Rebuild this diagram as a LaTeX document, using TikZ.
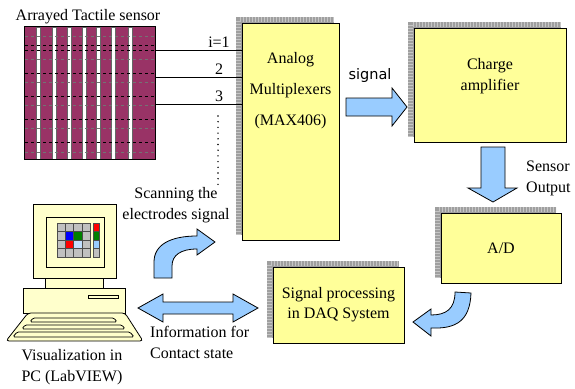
\documentclass[tikz,border=0pt]{standalone}
\usepackage{fontspec}
\setmainfont{Liberation Serif}
\newfontfamily\signalfont{DejaVu Sans}
\usepackage{tikz}
\usetikzlibrary{backgrounds}
\definecolor{boxyellow}{RGB}{255, 255, 153}
\definecolor{pcyellow}{RGB}{255, 255, 204}
\definecolor{arrowblue}{RGB}{153, 204, 255}
\definecolor{sensorpurple}{RGB}{153, 51, 102}
\definecolor{cellgray}{RGB}{192, 192, 192}

\begin{document}
\begin{tikzpicture}[x=1pt, y=-1pt,
  stage/.style={draw, line width=1pt, fill=boxyellow, inner sep=0pt, align=center,
    font=\fontsize{16}{20}\selectfont},
  lbl/.style={inner sep=0pt, align=center, font=\fontsize{16}{21}\selectfont},
  blockarrow/.style={draw, line width=0.8pt, fill=arrowblue, line join=miter},
  pc/.style={draw, line width=0.8pt, fill=pcyellow}]
  \useasboundingbox (0,0) rectangle (575,388);

  % Tactile sensor array
  \node[lbl] (title) at (88,17) {Arrayed Tactile sensor};
  \node[fill=sensorpurple, minimum width=130pt, minimum height=132pt, inner sep=0pt]
    (sensor) at (90,93) {};
  \foreach \x in {36,51.7,66.7,81.7,96,111,127.7}
    \draw[black!60, line width=0.4pt, fill=white] (\x,27) rectangle (\x+4.5,159);
  \foreach \y in {36,59,82,105.5,128.5,152}
    \draw[black!55, dashed, line width=0.9pt] (25,\y) -- (155,\y);
  \foreach \y in {45,50,73,96.5,119.5,142.5}
    \draw[black, dashed, line width=0.9pt] (25,\y) -- (155,\y);
  \draw[line width=1pt] (sensor.north west) rectangle (sensor.south east);

  % Processing stages
  \node[stage, minimum width=97pt, minimum height=217pt] (mux) at (290.5,131.5) {};
  \node[lbl, font=\fontsize{16}{31}\selectfont] (muxtext) at (290.5,91)
    {Analog\\Multiplexers\\(MAX406)};
  \node[stage, minimum width=152pt, minimum height=114pt] (amp) at (490,85) {};
  \node[lbl] (amptext) at (490,76) {Charge\\amplifier};
  \node[stage, minimum width=120pt, minimum height=70pt] (adc) at (501,248) {A/D};
  \node[stage, minimum width=131pt, minimum height=76pt] (daq) at (338.5,305)
    {Signal processing\\in DAQ System};

  % Ruled drop shadows behind the stages
  \begin{scope}[on background layer]
    \foreach \b in {mux,amp,adc,daq} {
      \fill[gray!75] ([shift={(-6,-6)}]\b.north west) rectangle ([shift={(-6,-6)}]\b.south east);
      \draw[gray!45, line width=5pt, dash pattern=on 0.8pt off 2.2pt]
        ([shift={(-3,-6)}]\b.south west) -- ([shift={(-3,-3)}]\b.north west)
        -- ([shift={(-6,-3)}]\b.north east);
    }
  \end{scope}

  % Electrode lines into the multiplexer
  \foreach \y/\t in {50/{i=1}, 77/2, 104/3} {
    \draw[line width=0.8pt] (sensor.east |- 0,\y) -- (mux.west |- 0,\y);
    \node[lbl, anchor=south] at (219,\y-2) {\t};
  }
  \draw[line width=1.6pt, line cap=round, dash pattern=on 0pt off 5.7pt] (218,116) -- (218,186);

  % Signal flow arrows
  \node[lbl, font=\fontsize{14.5}{16}\signalfont] (sig) at (370,75) {signal};
  \draw[blockarrow] (346,98) -- (392,98) -- (392,88) -- (407,107) -- (392,126)
    -- (392,116) -- (346,116) -- cycle;
  \draw[blockarrow] (481,147) -- (505,147) -- (505,188) -- (517,188) -- (493,202)
    -- (468,188) -- (481,188) -- cycle;
  \node[lbl, anchor=west, align=left] (out) at (526,178) {Sensor\\Output};
  \draw[blockarrow] (455,292) -- (471,293) .. controls (470,321) and (456,329) .. (431,328)
    -- (431,336) -- (413,322) -- (431,309) -- (431,315)
    .. controls (446,315) and (455,309) .. (455,292) -- cycle;
  \draw[blockarrow] (154,278) -- (154,262) .. controls (154,245) and (170,236) .. (197,236)
    -- (197,229) -- (215,242) -- (197,255) -- (197,249)
    .. controls (181,249) and (172,255) .. (172,266) -- (172,278) -- cycle;
  \node[lbl] (scan) at (176,205) {Scanning the\\electrodes signal};
  \draw[blockarrow] (138,308) -- (163,294) -- (163,302) -- (233,302) -- (233,294)
    -- (258,308) -- (233,322) -- (233,314) -- (163,314) -- (163,322) -- cycle;
  \node[lbl, anchor=west, align=left] (info) at (150,342) {Information for\\Contact state};

  % Host PC
  \draw[pc] (33,204) rectangle (116,278);
  \draw[pc] (46,217) rectangle (104,267);
  \foreach \i in {0,...,3}
    \foreach \j in {0,...,3}
      \draw[black!70, line width=0.5pt, fill=cellgray] (57+8.25*\i,223+8.5*\j) rectangle +(8.25,8.5);
  \foreach \i/\j/\c in {1/1/blue, 2/1/green!50!black, 1/2/red, 2/2/arrowblue!60}
    \draw[black!70, line width=0.5pt, fill=\c] (57+8.25*\i,223+8.5*\j) rectangle +(8.25,8.5);
  \foreach \j/\c in {0/red, 1/green!50!black, 2/arrowblue, 3/cellgray}
    \draw[black!70, line width=0.5pt, fill=\c] (93,223+8.5*\j) rectangle +(6,8.5);
  \draw[pc] (45,278) rectangle (103,288);
  \draw[pc] (23,288) rectangle (125,313);
  \draw[pc] (88,295) rectangle (118,298);
  \draw[pc, rounded corners=3pt] (28,313) -- (125,313) -- (143,341) -- (6,341) -- cycle;
  \draw[pc, rounded corners=1.5pt] (33,318) -- (114,318) -- (117,322) -- (30,322) -- cycle;
  \draw[pc, rounded corners=1.5pt] (25,325) -- (122,325) -- (125,329) -- (22,329) -- cycle;
  \draw[pc, rounded corners=1.5pt] (17,332) -- (130,332) -- (134,337) -- (13,337) -- cycle;
  \node[lbl] (pclabel) at (72,367) {Visualization in\\PC (LabVIEW)};
\end{tikzpicture}
\end{document}
